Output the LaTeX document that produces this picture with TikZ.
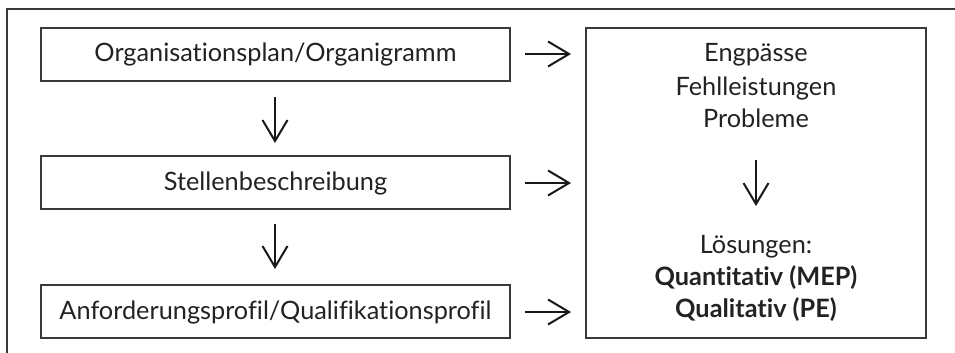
\documentclass[tikz,border=0pt]{standalone}
\usepackage{fontspec}
\setmainfont{Lato}[Ligatures=CommonOff]
\usetikzlibrary{arrows.meta}
\definecolor{framec}{HTML}{3A3A3A}
\definecolor{txt}{HTML}{222222}
\tikzset{
  box/.style={draw=framec, line width=1.3pt, inner sep=0pt},
  arr/.style={draw=black!90, line width=2pt, -{Straight Barb[length=21pt,width=25pt,line width=2pt]}},
  lbl/.style={text=txt, font=\fontsize{25.3}{31}\selectfont, inner sep=0pt, anchor=base}
}
\begin{document}
\begin{tikzpicture}[x=1pt,y=-1pt]
\useasboundingbox (0,0) rectangle (955,353);
\fill[white] (0,0) rectangle (955,353);
\draw[framec, line width=1.2pt] (7,353) -- (7,9) -- (955,9);
% left boxes
\node[box, minimum width=469pt, minimum height=53pt] (b1) at (275.5,54.5) {};
\node[lbl] (l1) at (275.5,62) {Organisationsplan/Organigramm};
\node[box, minimum width=469pt, minimum height=53pt] (b2) at (275.5,182.5) {};
\node[lbl] (l2) at (275.5,190) {Stellenbeschreibung};
\node[box, minimum width=469pt, minimum height=53pt] (b3) at (275.5,311.5) {};
\node[lbl] (l3) at (275.5,319) {Anforderungsprofil/Qualifikationsprofil};
% right box
\node[box, minimum width=340pt, minimum height=310pt] (r) at (756,183) {};
\node[lbl] (t1) at (756,62) {Engpässe};
\node[lbl] (t2) at (756,95) {Fehlleistungen};
\node[lbl] (t3) at (756,127) {Probleme};
\node[lbl] (t4) at (756,253) {Lösungen:};
\node[lbl] (t5) at (756,285) {\textbf{Quantitativ (MEP)}};
\node[lbl] (t6) at (756,317) {\textbf{Qualitativ (PE)}};
% coordinates for arrows
\coordinate (a1s) at (525,54); \coordinate (a1e) at (571,54);
\coordinate (a2s) at (525,183); \coordinate (a2e) at (571,183);
\coordinate (a3s) at (525,312); \coordinate (a3e) at (571,312);
\coordinate (d1s) at (275,97); \coordinate (d1e) at (275,143);
\coordinate (d2s) at (275,224); \coordinate (d2e) at (275,269);
\coordinate (d3s) at (756,160); \coordinate (d3e) at (756,206);
\draw[arr] (a1s) -- (a1e);
\draw[arr] (a2s) -- (a2e);
\draw[arr] (a3s) -- (a3e);
\draw[arr] (d1s) -- (d1e);
\draw[arr] (d2s) -- (d2e);
\draw[arr] (d3s) -- (d3e);
\end{tikzpicture}
\end{document}
